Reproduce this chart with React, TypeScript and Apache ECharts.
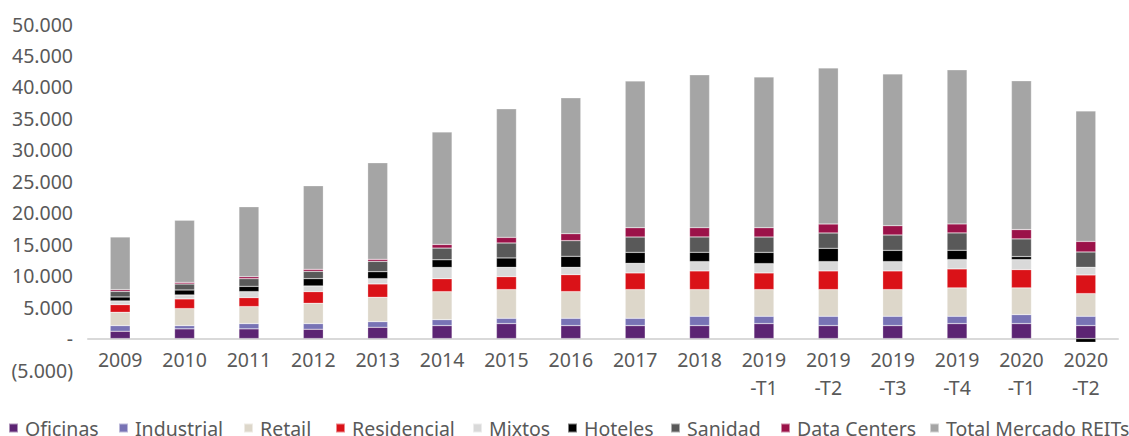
import React, { useEffect, useRef } from "react";
import * as echarts from "echarts";

const categories = [
  "2009", "2010", "2011", "2012", "2013", "2014", "2015", "2016", "2017", "2018",
  "2019\n-T1", "2019\n-T2", "2019\n-T3", "2019\n-T4", "2020\n-T1", "2020\n-T2",
];

const oficinas = [1160, 1540, 1540, 1480, 1790, 2060, 2380, 2060, 2060, 2060, 2380, 2060, 2060, 2380, 2380, 2060];
const industrial = [900, 520, 840, 900, 900, 950, 840, 1160, 1160, 1480, 1160, 1480, 1480, 1160, 1430, 1480];
const retail = [2110, 2700, 2700, 3220, 3860, 4440, 4560, 4240, 4560, 4240, 4240, 4240, 4240, 4510, 4240, 3600];
const residencial = [1220, 1540, 1430, 1860, 2130, 2060, 2060, 2700, 2650, 2970, 2650, 2970, 2970, 3020, 2910, 2970];
const mixtos = [590, 630, 950, 900, 840, 1790, 1480, 1160, 1520, 1480, 1480, 1480, 1480, 1480, 1590, 1210];
const hoteles = [630, 790, 840, 1160, 1110, 1220, 1490, 1750, 1750, 1480, 1790, 2110, 1790, 1480, 480, -590];
const sanidad = [890, 950, 1220, 1160, 1640, 1860, 2380, 2490, 2440, 2440, 2440, 2440, 2440, 2760, 2810, 2440];
const dataCenters = [270, 250, 320, 320, 320, 570, 890, 1110, 1480, 1480, 1480, 1430, 1480, 1430, 1480, 1680];
const totalMercado = [8370, 9900, 11110, 13290, 15350, 17890, 20430, 21590, 23330, 24290, 23970, 24810, 24130, 24490, 23650, 20750];

const seriesDefs = [
  { name: "Oficinas", data: oficinas, color: "#5c2473" },
  { name: "Industrial", data: industrial, color: "#7873b5" },
  { name: "Retail", data: retail, color: "#ddd7ca" },
  { name: "Residencial", data: residencial, color: "#da1218" },
  { name: "Mixtos", data: mixtos, color: "#d9d9d9" },
  { name: "Hoteles", data: hoteles, color: "#000000" },
  { name: "Sanidad", data: sanidad, color: "#595959" },
  { name: "Data Centers", data: dataCenters, color: "#9b1249" },
  { name: "Total Mercado REITs", data: totalMercado, color: "#a5a5a5" },
];

// legend marker x positions (px)
const legendLefts = [8, 118, 243, 335, 472, 567, 670, 780, 929];

const FONT = "'Noto Sans', 'Open Sans', sans-serif";
const TEXT = "#595959";

function fmt(v: number): string {
  if (v === 0) return "-";
  const s = Math.abs(v).toFixed(0).replace(/\B(?=(\d{3})+(?!\d))/g, ".");
  return v < 0 ? "(" + s + ")" : s;
}

export default function App() {
  const ref = useRef<HTMLDivElement>(null);
  useEffect(() => {
    if (!ref.current) return;
    const chart = echarts.init(ref.current, undefined, { renderer: "svg" });
    chart.setOption({
      animation: false,
      backgroundColor: "#ffffff",
      grid: { left: 88, right: 11, top: 24, bottom: 66, containLabel: false },
      legend: seriesDefs.map((s, i) => ({
        left: legendLefts[i],
        top: 418,
        padding: 0,
        width: 400,
        itemWidth: 9,
        itemHeight: 9,
        itemGap: 0,
        icon: "rect",
        textStyle: {
          fontFamily: FONT,
          fontSize: 19.5,
          lineHeight: 18,
          color: TEXT,
          padding: [0, 0, 0, 2],
        },
        data: [s.name],
      })),
      xAxis: {
        type: "category",
        data: categories,
        axisLine: { onZero: true, lineStyle: { color: "#d9d9d9", width: 2 } },
        axisTick: { show: false },
        axisLabel: {
          interval: 0,
          margin: -25,
          fontFamily: FONT,
          fontSize: 19.5,
          color: TEXT,
          lineHeight: 28,
        },
      },
      yAxis: {
        type: "value",
        min: -5000,
        max: 50000,
        interval: 5000,
        splitLine: { show: false },
        axisLine: { show: false },
        axisTick: { show: false },
        axisLabel: {
          margin: 15,
          fontFamily: FONT,
          fontSize: 19.5,
          color: TEXT,
          formatter: (v: number) => fmt(v),
        },
      },
      series: seriesDefs.map((s) => ({
        name: s.name,
        type: "bar",
        stack: "total",
        data: s.data,
        barWidth: 20,
        itemStyle: { color: s.color, borderColor: "rgba(255,255,255,0.5)", borderWidth: 0.5 },
        emphasis: { disabled: true },
      })),
    });
    return () => chart.dispose();
  }, []);
  return (
    <div
      ref={ref}
      style={{ position: "fixed", left: 0, top: 0, width: 1129, height: 436 }}
    />
  );
}
